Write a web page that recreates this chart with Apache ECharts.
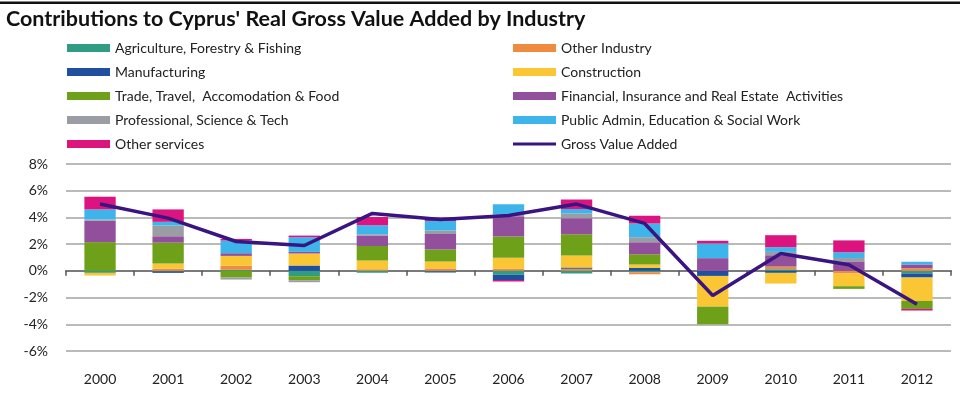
<!DOCTYPE html>
<html>
<head>
<meta charset="utf-8">
<script src="https://cdn.jsdelivr.net/npm/echarts@6/dist/echarts.min.js"></script>
<style>html,body{margin:0;padding:0;background:#fff}#c{width:960px;height:395px}</style>
</head>
<body>
<div id="c"></div>
<script>
const years = ['2000','2001','2002','2003','2004','2005','2006','2007','2008','2009','2010','2011','2012'];
const yTicks = {min: -6, max: 8, interval: 2};
const agriculture   = [-0.15,-0.05, 0.08,-0.40,-0.15,-0.05,-0.30,-0.20,-0.10, 0.00, 0.12, 0.00,-0.20];
const otherIndustry = [ 0.00, 0.17, 0.30, 0.00, 0.12, 0.18, 0.15, 0.15,-0.15, 0.00, 0.20,-0.20, 0.20];
const manufacturing = [ 0.00,-0.10, 0.00, 0.40, 0.00,-0.08,-0.38, 0.10, 0.22,-0.38,-0.15, 0.00,-0.30];
const construction  = [-0.20, 0.38, 0.74, 0.90, 0.65, 0.52, 0.83, 0.90, 0.26,-2.30,-0.80,-0.95,-1.75];
const trade         = [ 2.15, 1.56,-0.50,-0.30, 1.10, 0.90, 1.60, 1.60, 0.76,-1.32, 0.00,-0.20,-0.60];
const financial     = [ 1.60, 0.48, 0.20, 0.12, 0.78, 1.16, 1.50, 1.19, 0.90, 0.95, 0.85, 0.71, 0.28];
const professional  = [ 0.10, 0.80,-0.15,-0.15, 0.10, 0.26, 0.13, 0.36, 0.38, 0.00, 0.25, 0.25, 0.00];
const publicAdmin   = [ 0.75, 0.28, 0.95, 1.10, 0.67, 0.72, 0.78, 0.33, 1.02, 1.10, 0.35, 0.43, 0.20];
const otherServices = [ 0.95, 0.93, 0.12, 0.12, 0.62, 0.25,-0.12, 0.72, 0.58, 0.20, 0.90, 0.89,-0.12];
const gva           = [ 5.00, 3.95, 2.20, 1.90, 4.30, 3.85, 4.15, 5.00, 3.55,-1.85, 1.30, 0.45,-2.50];

const FONT = 'Lato';
const barDefs = [
  ['Agriculture, Forestry & Fishing', agriculture, '#2f9d84'],
  ['Other Industry', otherIndustry, '#ef8a3f'],
  ['Manufacturing', manufacturing, '#1f4f9e'],
  ['Construction', construction, '#fbc634'],
  ['Trade, Travel,  Accomodation & Food', trade, '#6fa01a'],
  ['Financial, Insurance and Real Estate  Activities', financial, '#924f9c'],
  ['Professional, Science & Tech', professional, '#9b9da4'],
  ['Public Admin, Education & Social Work', publicAdmin, '#3db5ea'],
  ['Other services', otherServices, '#dc1480']
];
const series = barDefs.map(d => ({
  name: d[0], type: 'bar', stack: 'c', data: d[1], barWidth: '46%',
  itemStyle: {color: d[2]}, xAxisIndex: 0, yAxisIndex: 0
}));
series.push({
  name: 'Gross Value Added', type: 'line', data: gva, xAxisIndex: 0,
  symbol: 'none', lineStyle: {color: '#3a1581', width: 3.5}, itemStyle: {color: '#3a1581'}, z: 5
});

const legendText = {fontFamily: FONT, fontSize: 14, color: '#222', lineHeight: 16};
const chart = echarts.init(document.getElementById('c'), null, {renderer: 'canvas'});
chart.setOption({
  animation: false,
  title: {text: "Contributions to Cyprus' Real Gross Value Added by Industry", left: 1, top: 3,
    textStyle: {fontFamily: FONT, fontSize: 21.5, fontWeight: 'bold', color: '#111'}},
  graphic: [{type: 'rect', shape: {x: 0, y: 1.5, width: 960, height: 2.5}, style: {fill: '#111'}}],
  legend: [
    {orient: 'vertical', left: 62, top: 35, itemWidth: 43, itemHeight: 8, itemGap: 8, icon: 'rect',
     textStyle: legendText, data: ['Agriculture, Forestry & Fishing','Manufacturing','Trade, Travel,  Accomodation & Food','Professional, Science & Tech','Other services']},
    {orient: 'vertical', left: 508, top: 35, itemWidth: 43, itemHeight: 8, itemGap: 8,
     textStyle: legendText, data: [{name:'Other Industry',icon:'rect'},{name:'Construction',icon:'rect'},{name:'Financial, Insurance and Real Estate  Activities',icon:'rect'},{name:'Public Admin, Education & Social Work',icon:'rect'},{name:'Gross Value Added',icon:'path://M0,0H43V3H0Z'}]}
  ],
  grid: {left: 66, right: 9, top: 164, bottom: 44},
  xAxis: [
    {type: 'category', data: years, position: 'bottom',
     axisLine: {show: false, onZero: false}, axisTick: {show: false},
     axisLabel: {fontFamily: FONT, fontSize: 14, color: '#222', margin: 21}},
    {type: 'category', data: years, position: 'top',
     axisLine: {show: true, onZero: true, lineStyle: {color: '#7a7a7a', width: 2}},
     axisTick: {show: true, inside: true, length: 5, lineStyle: {color: '#555', width: 1.5}},
     axisLabel: {show: false}, splitLine: {show: false}}
  ],
  yAxis: {type: 'value', min: yTicks.min, max: yTicks.max, interval: yTicks.interval,
    axisLine: {show: false}, axisTick: {show: false},
    axisLabel: {fontFamily: FONT, fontSize: 14, color: '#222', margin: 18, formatter: v => v + '%'},
    splitLine: {lineStyle: {color: '#a3a3a3', width: 1.5}}},
  series: series
});
</script>
</body>
</html>
